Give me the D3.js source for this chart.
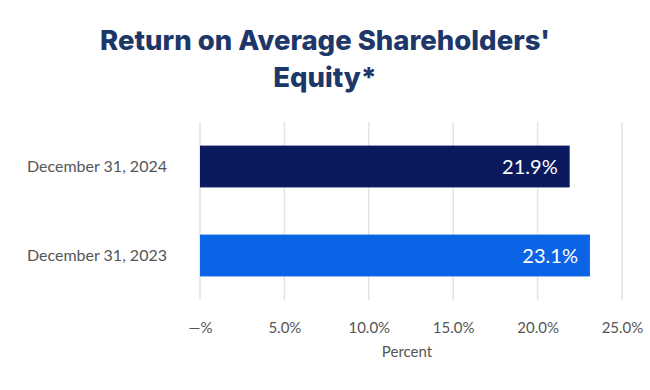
<!DOCTYPE html>
<html>
<head>
<meta charset="utf-8">
<script src="https://cdn.jsdelivr.net/npm/d3@7"></script>
<style>
  body { margin: 0; background: #fff; }
  svg { display: block; }
</style>
</head>
<body>
<div id="chart"></div>
<script>
const categories = ["December 31, 2024", "December 31, 2023"];
const values = [21.9, 23.1];
const barColors = ["#0b1a5e", "#0b63e5"];
const tickValues = [0, 5, 10, 15, 20, 25];

const W = 650, H = 390;
const MARGIN = { TOP: 122, BOTTOM: 90, LEFT: 200, RIGHT: 28 };

const svg = d3.select("#chart").append("svg")
  .attr("width", W)
  .attr("height", H);

// title
const title = svg.append("text")
  .attr("text-anchor", "middle")
  .attr("font-family", "Inter, 'Open Sans', sans-serif")
  .attr("font-weight", 800)
  .attr("font-size", 27.5)
  .attr("fill", "#1e3769");
title.append("tspan").attr("x", W / 2).attr("y", 50).text("Return on Average Shareholders'");
title.append("tspan").attr("x", W / 2).attr("y", 87).text("Equity*");

const x = d3.scaleLinear()
  .domain([0, 25])
  .range([MARGIN.LEFT, 622]);

const y = d3.scaleBand()
  .domain(categories)
  .range([MARGIN.TOP, H - MARGIN.BOTTOM])
  .paddingInner(0.53)
  .paddingOuter(0.265);

// grid
svg.append("g")
  .selectAll("line")
  .data(tickValues)
  .join("line")
  .attr("x1", d => x(d))
  .attr("x2", d => x(d))
  .attr("y1", MARGIN.TOP)
  .attr("y2", H - MARGIN.BOTTOM)
  .attr("stroke", "#e3e3e3")
  .attr("stroke-width", 1.5);

// x axis
const xAxis = svg.append("g")
  .attr("transform", `translate(0, ${H - MARGIN.BOTTOM})`)
  .call(d3.axisBottom(x)
    .tickValues(tickValues)
    .tickSize(0)
    .tickPadding(22)
    .tickFormat(d => d === 0 ? "\u2014%" : d.toFixed(1) + "%"));
xAxis.select(".domain").remove();
xAxis.selectAll("text")
  .attr("font-family", "Lato, 'Open Sans', sans-serif")
  .attr("font-size", 15)
  .attr("fill", "#555");

svg.append("text")
  .attr("x", 407)
  .attr("y", 357)
  .attr("text-anchor", "middle")
  .attr("font-family", "Lato, 'Open Sans', sans-serif")
  .attr("font-size", 15)
  .attr("fill", "#555")
  .text("Percent");

// y axis labels
const yAxis = svg.append("g")
  .attr("transform", `translate(${MARGIN.LEFT}, 0)`)
  .call(d3.axisLeft(y).tickSize(0).tickPadding(33));
yAxis.select(".domain").remove();
yAxis.selectAll("text")
  .attr("font-family", "Lato, 'Open Sans', sans-serif")
  .attr("font-size", 16)
  .attr("fill", "#555");

// bars
svg.append("g")
  .selectAll("rect")
  .data(values)
  .join("rect")
  .attr("x", x(0))
  .attr("y", (d, i) => y(categories[i]))
  .attr("width", d => x(d) - x(0))
  .attr("height", y.bandwidth())
  .attr("fill", (d, i) => barColors[i]);

// value labels
svg.append("g")
  .selectAll("text")
  .data(values)
  .join("text")
  .attr("x", d => x(d) - 12)
  .attr("y", (d, i) => y(categories[i]) + y.bandwidth() / 2)
  .attr("dy", "0.36em")
  .attr("text-anchor", "end")
  .attr("font-family", "Lato, 'Open Sans', sans-serif")
  .attr("font-size", 20)
  .attr("fill", "#fff")
  .text(d => d.toFixed(1) + "%");
</script>
</body>
</html>
